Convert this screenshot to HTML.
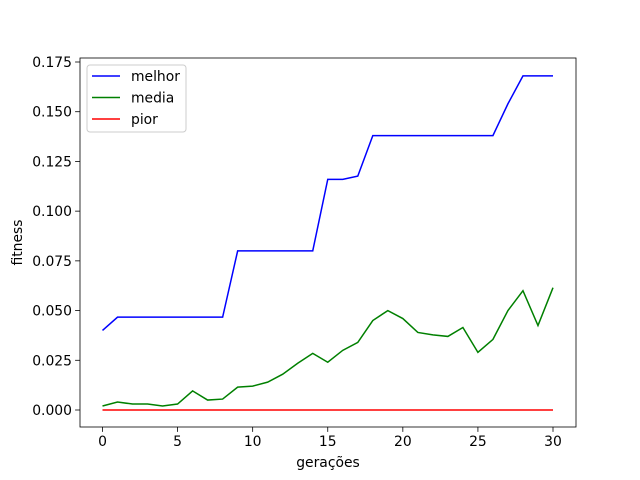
<!DOCTYPE html>
<html><head><meta charset="utf-8"><style>body{margin:0;background:#fff}svg{display:block;font-family:"DejaVu Sans","Liberation Sans",sans-serif}</style></head>
<body>
<svg id="chart" width="640" height="480" viewBox="0 0 640 480"></svg>
<script>
const generations = [0,1,2,3,4,5,6,7,8,9,10,11,12,13,14,15,16,17,18,19,20,21,22,23,24,25,26,27,28,29,30];
const melhor = [0.040,0.0467,0.0467,0.0467,0.0467,0.0467,0.0467,0.0467,0.0467,0.080,0.080,0.080,0.080,0.080,0.080,0.116,0.116,0.1176,0.138,0.138,0.138,0.138,0.138,0.138,0.138,0.138,0.138,0.154,0.168,0.168,0.168];
const media = [0.002,0.004,0.003,0.003,0.002,0.003,0.0096,0.005,0.0055,0.0115,0.012,0.014,0.018,0.0235,0.0285,0.024,0.030,0.034,0.045,0.050,0.046,0.039,0.0378,0.037,0.0415,0.029,0.0355,0.050,0.060,0.0425,0.0615];
const pior = [0,0,0,0,0,0,0,0,0,0,0,0,0,0,0,0,0,0,0,0,0,0,0,0,0,0,0,0,0,0,0];
const xTicks = [0,5,10,15,20,25,30];
const yTicks = [0,0.025,0.05,0.075,0.1,0.125,0.15,0.175];
const yTickLabels = ["0.000","0.025","0.050","0.075","0.100","0.125","0.150","0.175"];

const NS="http://www.w3.org/2000/svg", svg=document.getElementById('chart');
const L=80,R=576,T=58,B=427,FS=13.9;
const xs=v=>102.5+(v-0)*(553-102.5)/30;
const ys=v=>410-v*(410-62)/0.175;
function mk(tag,attrs,parent){const e=document.createElementNS(NS,tag);for(const k in attrs)e.setAttribute(k,attrs[k]);(parent||svg).appendChild(e);return e;}

const frame=mk('rect',{x:L,y:T,width:R-L,height:B-T,fill:'none',stroke:'#000','stroke-width':0.8});



xTicks.forEach(t=>{const x=xs(t);
 const l=mk('line',{x1:x,x2:x,y1:B,y2:B+4.9,stroke:'#000','stroke-width':0.8});
 
 
 const tx=mk('text',{x:x,y:B+19,'font-size':FS,'text-anchor':'middle'});tx.textContent=t;
 
 
});
yTicks.forEach((t,i)=>{const y=ys(t);
 const l=mk('line',{x1:L-4.9,x2:L,y1:y,y2:y,stroke:'#000','stroke-width':0.8});
 
 
 const tx=mk('text',{x:L-8,y:y+5,'font-size':FS,'text-anchor':'end'});tx.textContent=yTickLabels[i];
 
 
});
const xt=mk('text',{x:(L+R)/2,y:467,'font-size':FS,'text-anchor':'middle'});xt.textContent='gerações';


const yt=mk('text',{x:22,y:(T+B)/2,'font-size':FS,'text-anchor':'middle',transform:`rotate(-90 22 ${(T+B)/2})`});yt.textContent='fitness';



const series=[[melhor,'#0000ff','melhor'],[media,'#008000','media'],[pior,'#ff0000','pior']];
series.forEach(([d,c,n])=>{
 const p=mk('polyline',{points:d.map((v,i)=>xs(generations[i])+','+ys(v)).join(' '),fill:'none',stroke:c,'stroke-width':1.5});
 
 
});

const lg=mk('g',{});


mk('rect',{x:87,y:65,width:99,height:67,rx:3,fill:'#fff','fill-opacity':0.8,stroke:'#ccc'},lg);
series.forEach(([d,c,n],i)=>{const y=76+i*21.5;
 mk('line',{x1:92,x2:120,y1:y,y2:y,stroke:c,'stroke-width':1.5},lg);
 const t=mk('text',{x:131,y:y+5,'font-size':FS},lg);t.textContent=n;
 
 
});
</script>
</body></html>
